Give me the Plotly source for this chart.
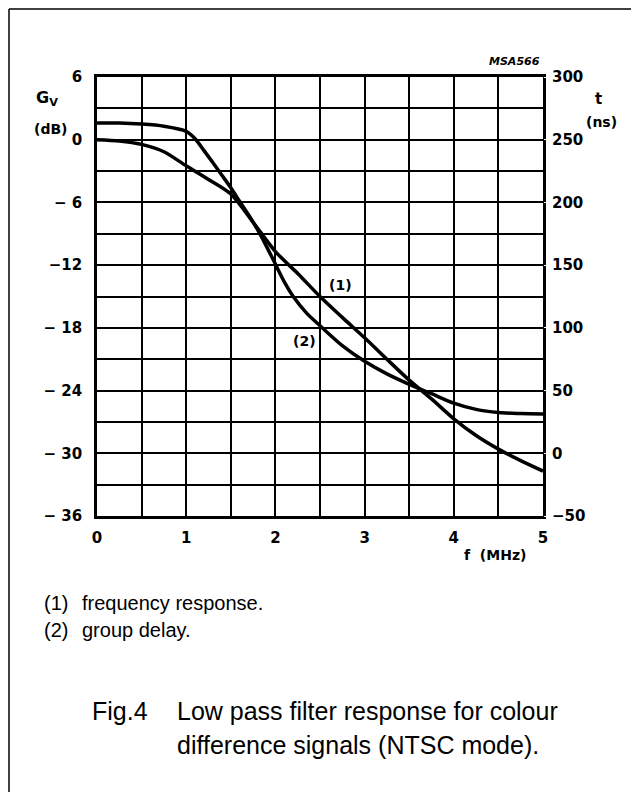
import plotly.graph_objects as go

# ---- data ----
fr_freq = [0, 0.25, 0.5, 0.75, 1.0, 1.25, 1.5, 1.75, 2.0, 2.25, 2.5, 2.75, 3.0,
           3.25, 3.5, 3.75, 4.0, 4.25, 4.5, 4.75, 5.0]
fr_db = [0, -0.12, -0.45, -1.15, -2.5, -3.8, -5.2, -7.9, -10.7, -12.8, -15.0,
         -17.0, -18.95, -21.0, -23.0, -24.8, -26.7, -28.3, -29.6, -30.7, -31.7]

gd_freq = [0, 0.25, 0.5, 0.75, 1.0, 1.1, 1.2, 1.3, 1.4, 1.5, 1.6, 1.7, 1.8, 1.9,
           2.0, 2.1, 2.2, 2.35, 2.5, 2.75, 3.0, 3.25, 3.5, 3.75, 4.0, 4.25, 4.5,
           4.75, 5.0]
gd_ns = [263.3, 263.3, 262.5, 260.8, 256.7, 250.8, 241.3, 231.7, 221.7, 211.7,
         200.8, 190.0, 178.3, 165.0, 150.8, 136.7, 125.0, 111.7, 101.7, 85.8,
         73.3, 63.3, 55.0, 47.5, 40.0, 35.0, 32.5, 31.7, 31.3]

x_tickvals = [0, 1, 2, 3, 4, 5]
x_ticktext = ["0", "1", "2", "3", "4", "5"]
y_tickvals = [-36, -30, -24, -18, -12, -6, 0, 6]
y_ticktext = ["\u2212 36", "\u2212 30", "\u2212 24", "\u2212 18", "\u221212",
              "\u2212 6", "0", "6"]
y2_tickvals = [-50, 0, 50, 100, 150, 200, 250, 300]
y2_ticktext = ["\u221250", "0", "50", "100", "150", "200", "250", "300"]

# ---- layout geometry (page pixels; the page body adds an 8px offset) ----
OFF = 8
W, H = 639 - 2 * OFF, 792 - OFF
L, R, T, B = 97, 543, 77, 516


def px(x):
    return (x - L) / (R - L)


def py(y):
    return (B - y) / (B - T)


TICKFONT = dict(family="DejaVu Sans", size=15, color="black", weight="bold")

fig = go.Figure()
fig.add_trace(go.Scatter(x=fr_freq, y=fr_db, mode="lines",
                         line=dict(color="black", width=3.5, shape="spline", smoothing=0.8),
                         showlegend=False, hoverinfo="skip"))
fig.add_trace(go.Scatter(x=gd_freq, y=gd_ns, mode="lines", yaxis="y2",
                         line=dict(color="black", width=3.5, shape="spline", smoothing=0.8),
                         showlegend=False, hoverinfo="skip"))

fig.update_layout(
    width=W, height=H, autosize=False,
    margin=dict(l=L - OFF, r=W - (R - OFF), t=T - OFF, b=H - (B - OFF), pad=0),
    paper_bgcolor="white", plot_bgcolor="white",
    xaxis=dict(range=[0, 5], tickvals=x_tickvals, ticktext=x_ticktext,
               showgrid=True, gridcolor="black", gridwidth=2,
               minor=dict(tick0=0, dtick=0.5, showgrid=True, gridcolor="black",
                          gridwidth=2, ticks=""),
               showline=True, linecolor="black", linewidth=2.5, mirror=True,
               ticks="outside", ticklen=6, tickcolor="white",
               tickfont=TICKFONT, zeroline=False),
    yaxis=dict(range=[-36, 6], tickvals=y_tickvals, ticktext=y_ticktext,
               showgrid=True, gridcolor="black", gridwidth=2,
               minor=dict(tick0=0, dtick=3, showgrid=True, gridcolor="black",
                          gridwidth=2, ticks=""),
               showline=True, linecolor="black", linewidth=2.5, mirror=True,
               ticks="outside", ticklen=9, tickcolor="white",
               tickfont=TICKFONT, zeroline=False),
    yaxis2=dict(range=[-50, 300], tickvals=y2_tickvals, ticktext=y2_ticktext,
                overlaying="y", side="right", showgrid=False, zeroline=False,
                showline=False, ticks="outside", ticklen=5, tickcolor="white",
                tickfont=TICKFONT),
)

BOLD = dict(family="DejaVu Sans", color="black", weight="bold")
PLAIN = dict(family="Liberation Sans", color="black")
ann = [
    dict(text="G<sub>V</sub>", x=px(34), y=py(99), xanchor="left", yanchor="middle",
         font=dict(size=16, **BOLD)),
    dict(text="(dB)", x=px(32), y=py(129), xanchor="left", yanchor="middle",
         font=dict(size=14, **BOLD)),
    dict(text="t", x=px(598), y=py(99), xanchor="center", yanchor="middle",
         font=dict(size=15, **BOLD)),
    dict(text="(ns)", x=px(601), y=py(122), xanchor="center", yanchor="middle",
         font=dict(size=14, **BOLD)),
    dict(text="f  (MHz)", x=px(462), y=py(555), xanchor="left", yanchor="middle",
         font=dict(size=14, **BOLD)),
    dict(text="<i>MSA566</i>", x=px(542), y=py(62), xanchor="right", yanchor="middle",
         font=dict(size=11, **BOLD)),
    dict(text="(1)", x=2.73, y=-13.9, xref="x", yref="y", showarrow=False,
         xanchor="center", yanchor="middle", font=dict(size=14, **BOLD)),
    dict(text="(2)", x=2.33, y=-19.3, xref="x", yref="y", showarrow=False,
         xanchor="center", yanchor="middle", font=dict(size=14, **BOLD)),
    dict(text="(1)", x=px(42), y=py(603), xanchor="left", yanchor="middle",
         font=dict(size=20, **PLAIN)),
    dict(text="frequency response.", x=px(80), y=py(603), xanchor="left",
         yanchor="middle", font=dict(size=20, **PLAIN)),
    dict(text="(2)", x=px(42), y=py(630), xanchor="left", yanchor="middle",
         font=dict(size=20, **PLAIN)),
    dict(text="group delay.", x=px(80), y=py(630), xanchor="left",
         yanchor="middle", font=dict(size=20, **PLAIN)),
    dict(text="Fig.4", x=px(90), y=py(711), xanchor="left", yanchor="middle",
         font=dict(size=25, **PLAIN)),
    dict(text="Low pass filter response for colour", x=px(175), y=py(711),
         xanchor="left", yanchor="middle", font=dict(size=25, **PLAIN)),
    dict(text="difference signals (NTSC mode).", x=px(175), y=py(745),
         xanchor="left", yanchor="middle", font=dict(size=25, **PLAIN)),
]
for a in ann:
    a.setdefault("xref", "paper")
    a.setdefault("yref", "paper")
    a.setdefault("showarrow", False)
    fig.add_annotation(**a)

# outer frame (left and top edges visible in the reference)
fig.add_shape(type="line", xref="paper", yref="paper", x0=px(OFF + 1), x1=px(OFF + 1),
              y0=py(OFF + 1), y1=py(820), line=dict(color="black", width=1.5))
fig.add_shape(type="line", xref="paper", yref="paper", x0=px(OFF + 1), x1=px(700),
              y0=py(OFF + 1), y1=py(OFF + 1), line=dict(color="black", width=1.5))

fig.write_html("out.html")
